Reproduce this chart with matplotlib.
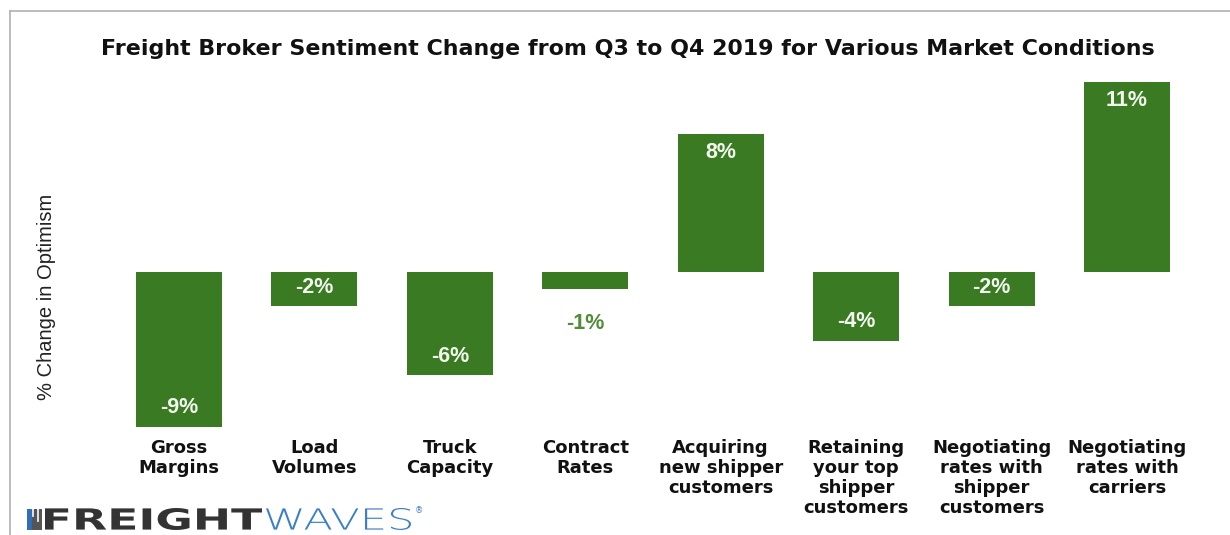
import numpy as np
import matplotlib
matplotlib.use("Agg")
import matplotlib.pyplot as plt
from matplotlib.lines import Line2D
from matplotlib.patches import Rectangle, PathPatch
from matplotlib.textpath import TextPath
from matplotlib.font_manager import FontProperties
from matplotlib.transforms import Affine2D

# Survey results: change in broker optimism, Q3 -> Q4 2019
categories = ["Gross\nMargins", "Load\nVolumes", "Truck\nCapacity", "Contract\nRates",
              "Acquiring\nnew shipper\ncustomers", "Retaining\nyour top\nshipper\ncustomers",
              "Negotiating\nrates with\nshipper\ncustomers", "Negotiating\nrates with\ncarriers"]
change = [-9, -2, -6, -1, 8, -4, -2, 11]

green = "#3a7a23"

fig = plt.figure(figsize=(12.3, 5.35), dpi=100)
ax = fig.add_axes([0.0905, 0.2019, 0.8808, 0.6449])

x = np.arange(len(categories))
bars = ax.bar(x, change, width=0.635, color=green)
ax.set_xlim(-0.5, len(categories) - 0.5)
ax.set_ylim(min(change), max(change))

# value labels: inside the bar end, or below it when the bar is too short
for xi, v in zip(x, change):
    if abs(v) >= 2:
        off = -19 if v > 0 else 19
        ax.annotate(f"{v}%", (xi, v), xytext=(0, off), textcoords="offset pixels",
                    ha="center", va="center", fontsize=15.5, fontweight="bold",
                    family="Liberation Sans", color="#f2f6ee")
    else:
        ax.annotate(f"{v}%", (xi, v), xytext=(0, -35), textcoords="offset pixels",
                    ha="center", va="center", fontsize=15.5, fontweight="bold",
                    family="Liberation Sans", color="#528c36")

for s in ax.spines.values():
    s.set_visible(False)
ax.set_yticks([])
ax.set_xticks(x)
ax.set_xticklabels(categories, fontsize=13, fontweight="bold", color="#111111",
                   linespacing=1.12, va="top")
ax.tick_params(axis="x", length=0, pad=9)

fig.text(0.5106, 0.908, "Freight Broker Sentiment Change from Q3 to Q4 2019 for Various Market Conditions",
         ha="center", va="center", fontsize=15.9, fontweight="bold", color="#111111")
fig.text(0.0382, 0.445, "% Change in Optimism", rotation=90, ha="center", va="center",
         fontsize=14.5, family="Liberation Sans", color="#222222")

# outer frame
fig.add_artist(Line2D([0.0081, 1.0], [0.979, 0.979], color="#b0b0b0", lw=1.2))
fig.add_artist(Line2D([0.0081, 0.0081], [0.979, 0.0], color="#b0b0b0", lw=1.2))

# FreightWaves logo
icon = fig.add_axes([0.022, 0.009, 0.012, 0.04])
icon.set_xlim(0, 6)
icon.set_ylim(0, 10)
icon.axis("off")
heights = [10, 10, 6, 10, 4, 10]
cols = ["#2f6fb8", "#2f6fb8", "#555555", "#555555", "#555555", "#555555"]
for i, (h, c) in enumerate(zip(heights, cols)):
    icon.add_patch(Rectangle((i, 0), 0.6, h, color=c))


def word(text, left, bottom, width, height, weight, color):
    # stretch a text outline into a pixel box
    path = TextPath((0, 0), text, size=10, prop=FontProperties(family="DejaVu Sans", weight=weight))
    ext = path.get_extents()
    tr = (Affine2D().translate(-ext.x0, -ext.y0)
          .scale(width / ext.width, height / ext.height)
          .translate(left, bottom))
    fig.add_artist(PathPatch(path, transform=tr, facecolor=color, edgecolor="none"))


word("FREIGHT", 45, 5, 217, 22, "heavy", "#333333")
word("WAVES", 266, 5, 145, 22, "light", "#3a7fc8")
fig.text(0.337, 0.046, "®", ha="left", va="center", fontsize=6, color="#3a7fc8")

fig.savefig("out.png", dpi=100, facecolor="white")
